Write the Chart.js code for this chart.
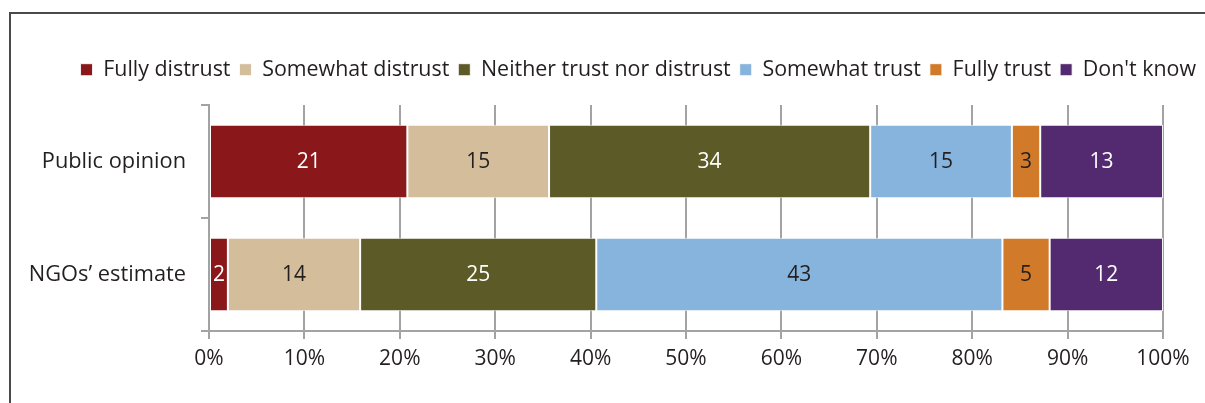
<!DOCTYPE html>
<html>
<head>
<meta charset="utf-8">
<script src="https://cdn.jsdelivr.net/npm/chart.js@4.4.1/dist/chart.umd.min.js"></script>
<style>
  html, body { margin: 0; padding: 0; background: #fff; }
  #wrap { position: relative; width: 1205px; height: 403px; overflow: hidden; }
  #frame { position: absolute; left: 9px; top: 12px; right: -10px; bottom: -10px;
           border-left: 2px solid #4a4a4a; border-top: 2px solid #4a4a4a; }
  canvas { position: absolute; left: 0; top: 0; }
</style>
</head>
<body>
<div id="wrap">
  <div id="frame"></div>
  <canvas id="trustChart" width="1205" height="403"></canvas>
</div>
<script>
// --- Data ---
const categories = ['Public opinion', 'NGOs\u2019 estimate'];
const seriesNames = ['Fully distrust', 'Somewhat distrust', 'Neither trust nor distrust',
                     'Somewhat trust', 'Fully trust', "Don't know"];
const fullyDistrust = [21, 2];
const somewhatDistrust = [15, 14];
const neitherTrust = [34, 25];
const somewhatTrust = [15, 43];
const fullyTrust = [3, 5];
const dontKnow = [13, 12];
const xTicks = [0, 10, 20, 30, 40, 50, 60, 70, 80, 90, 100];

const seriesValues = [fullyDistrust, somewhatDistrust, neitherTrust, somewhatTrust, fullyTrust, dontKnow];
const seriesColors = ['#8a171a', '#d3bd9b', '#5c5a26', '#87b4dc', '#d17a2a', '#53296f'];
const labelColors = ['#ffffff', '#231f20', '#ffffff', '#231f20', '#231f20', '#ffffff'];

const FONT = "'Open Sans', 'Noto Sans', sans-serif";
const GRID = '#a3a3a3';

// rows add to 101 because of rounding, the bars are scaled to 100%
const rowTotals = categories.map((c, i) => seriesValues.reduce((s, arr) => s + arr[i], 0));

// --- value labels inside the bar segments ---
const segmentLabels = {
    id: 'segmentLabels',
    afterDatasetsDraw(chart) {
        const ctx = chart.ctx;
        ctx.save();
        ctx.font = '21px ' + FONT;
        ctx.textAlign = 'center';
        ctx.textBaseline = 'middle';
        chart.data.datasets.forEach((ds, di) => {
            const meta = chart.getDatasetMeta(di);
            meta.data.forEach((bar, i) => {
                const p = bar.getProps(['x', 'y', 'base'], true);
                ctx.fillStyle = labelColors[di];
                ctx.fillText(String(seriesValues[di][i]), (p.x + p.base) / 2, p.y + 1);
            });
        });
        ctx.restore();
    }
};

new Chart(document.getElementById('trustChart'), {
    type: 'bar',
    data: {
        labels: categories,
        datasets: seriesNames.map((name, k) => ({
            label: name,
            data: seriesValues[k].map((v, i) => v / rowTotals[i] * 100),
            backgroundColor: seriesColors[k],
            borderColor: 'rgba(255,255,255,0.85)',
            borderWidth: 1,
            borderSkipped: false,
            barPercentage: 0.65,
            categoryPercentage: 1
        }))
    },
    options: {
        indexAxis: 'y',
        responsive: false,
        animation: false,
        layout: { padding: { left: 10, right: 0, top: 50, bottom: 0 } },
        plugins: {
            legend: {
                position: 'top',
                align: 'end',
                labels: {
                    boxWidth: 12,
                    boxHeight: 12,
                    padding: 9,
                    color: '#231f20',
                    font: { family: FONT, size: 21.4 }
                }
            },
            tooltip: { enabled: false }
        },
        scales: {
            x: {
                type: 'linear',
                stacked: true,
                min: 0,
                max: 100,
                afterBuildTicks: s => { s.ticks = xTicks.map(v => ({ value: v })); },
                afterFit: s => { s.height = 72; },
                ticks: {
                    padding: 7,
                    color: '#231f20',
                    font: { family: FONT, size: 21 },
                    callback: v => v + '%'
                },
                grid: { color: GRID, lineWidth: 2, tickLength: 8 },
                border: { color: GRID, width: 2 }
            },
            xTop: {
                type: 'linear',
                position: 'top',
                min: 0,
                max: 1,
                afterFit: s => { s.height = 14.5; },
                ticks: { display: false },
                grid: { display: false },
                border: { display: false }
            },
            y: {
                type: 'category',
                stacked: true,
                afterFit: s => { s.width = 199; },
                ticks: {
                    padding: 15,
                    color: '#231f20',
                    font: { family: FONT, size: 21.8 }
                },
                grid: { offset: true, drawOnChartArea: false, color: GRID, lineWidth: 2, tickLength: 8 },
                border: { color: GRID, width: 2 }
            },
            yRight: {
                type: 'linear',
                position: 'right',
                min: 0,
                max: 1,
                afterFit: s => { s.width = 42; },
                ticks: { display: false },
                grid: { display: false },
                border: { display: false }
            }
        }
    },
    plugins: [segmentLabels]
});
</script>
</body>
</html>
